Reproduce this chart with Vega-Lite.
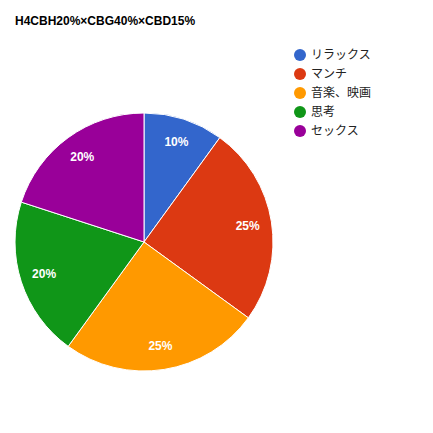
{
  "$schema": "https://vega.github.io/schema/vega-lite/v6.json",
  "width": 258,
  "height": 258,
  "autosize": "none",
  "padding": {"left": 15, "top": 113, "right": 160, "bottom": 62},
  "background": "#ffffff",
  "title": {
    "text": "H4CBH20%×CBG40%×CBD15%",
    "anchor": "start",
    "frame": "group",
    "offset": 21,
    "font": "Liberation Sans",
    "fontSize": 12,
    "fontWeight": "bold",
    "color": "#000000"
  },
  "data": {
    "values": [
      {"idx": 1, "category": "リラックス", "value": 0.10},
      {"idx": 2, "category": "マンチ", "value": 0.25},
      {"idx": 3, "category": "音楽、映画", "value": 0.25},
      {"idx": 4, "category": "思考", "value": 0.20},
      {"idx": 5, "category": "セックス", "value": 0.20}
    ]
  },
  "encoding": {
    "theta": {"field": "value", "type": "quantitative", "stack": true},
    "order": {"field": "idx", "type": "quantitative"}
  },
  "layer": [
    {
      "mark": {"type": "arc", "stroke": "#ffffff", "strokeWidth": 1},
      "encoding": {
        "color": {
          "field": "category",
          "type": "nominal",
          "sort": null,
          "scale": {
            "domain": ["リラックス", "マンチ", "音楽、映画", "思考", "セックス"],
            "range": ["#3366cc", "#dc3912", "#ff9900", "#109618", "#990099"]
          },
          "legend": {
            "title": null,
            "orient": "none",
            "legendX": 279,
            "legendY": -64,
            "padding": 0,
            "symbolType": "circle",
            "symbolSize": 144,
            "symbolStrokeWidth": 0,
            "labelFont": "Noto Sans CJK JP",
            "labelFontSize": 12,
            "labelColor": "#222222",
            "labelOffset": 5,
            "rowPadding": 7
          }
        },
        "tooltip": [
          {"field": "category", "type": "nominal"},
          {"field": "value", "type": "quantitative", "format": ".0%"}
        ]
      }
    },
    {
      "mark": {
        "type": "text",
        "radius": 105,
        "font": "Liberation Sans",
        "fontSize": 12,
        "fontWeight": "bold"
      },
      "encoding": {
        "detail": {"field": "category", "type": "nominal"},
        "color": {"value": "#ffffff"},
        "text": {"field": "value", "type": "quantitative", "format": ".0%"}
      }
    }
  ]
}
